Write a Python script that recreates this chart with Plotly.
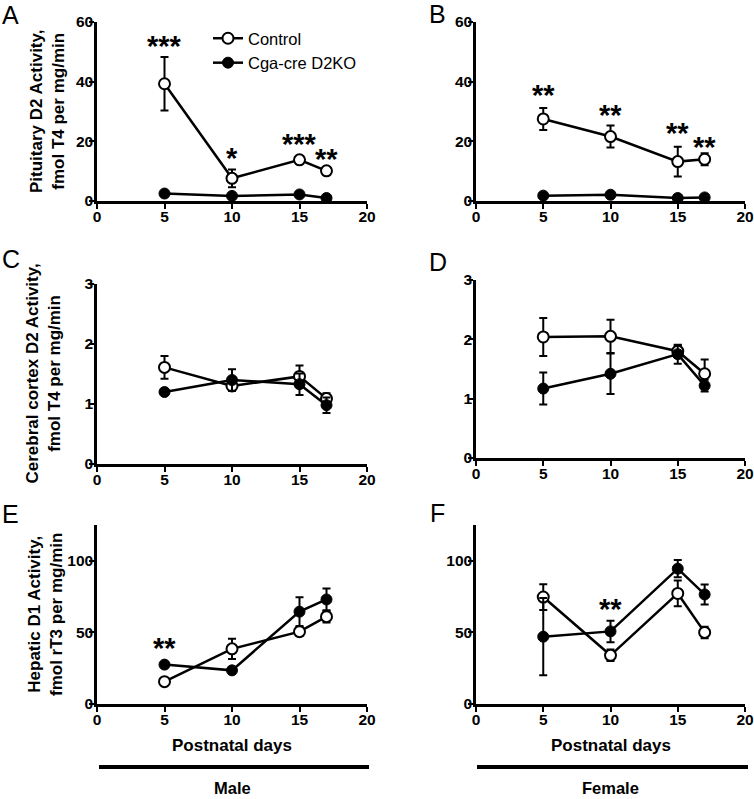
import plotly.graph_objects as go

# ---------------- data ----------------
days = [5, 10, 15, 17]

# A: Pituitary D2 activity, male
a_ctrl = [39.3, 7.6, 13.8, 10.1]
a_ctrl_err = [9.0, 3.0, 0.8, 0.5]
a_ko = [2.5, 1.7, 2.2, 1.0]
a_ko_err = [0.5, 0.5, 0.5, 0.4]
a_star_x = [5, 10, 15, 17]
a_star_y = [53, 15.5, 20, 15.1]
a_star_txt = ["***", "*", "***", "**"]

# B: Pituitary D2 activity, female
b_ctrl = [27.5, 21.6, 13.2, 14.0]
b_ctrl_err = [3.7, 3.7, 5.0, 2.0]
b_ko = [1.8, 2.1, 1.0, 1.2]
b_ko_err = [0.4, 0.4, 0.3, 0.3]
b_star_x = [5, 10, 15, 17]
b_star_y = [36.7, 30.0, 23.9, 19.0]
b_star_txt = ["**", "**", "**", "**"]

# C: Cerebral cortex D2 activity, male
c_ctrl = [1.61, 1.30, 1.46, 1.09]
c_ctrl_err = [0.19, 0.08, 0.18, 0.09]
c_ko = [1.20, 1.40, 1.33, 0.98]
c_ko_err = [0.03, 0.18, 0.18, 0.13]

# D: Cerebral cortex D2 activity, female
d_ctrl = [2.04, 2.05, 1.80, 1.42]
d_ctrl_err = [0.32, 0.28, 0.10, 0.24]
d_ko = [1.17, 1.42, 1.75, 1.22]
d_ko_err = [0.27, 0.34, 0.16, 0.10]

# E: Hepatic D1 activity, male
e_ctrl = [15.6, 38.5, 50.5, 61.0]
e_ctrl_err = [1.0, 7.0, 3.0, 4.0]
e_ko = [27.5, 23.5, 64.5, 73.0]
e_ko_err = [1.0, 1.0, 10.0, 7.6]
e_star_x = [5]
e_star_y = [41.3]
e_star_txt = ["**"]

# F: Hepatic D1 activity, female
f_ctrl = [74.7, 34.0, 77.2, 50.0]
f_ctrl_err = [9.0, 4.0, 9.0, 4.0]
f_ko = [47.0, 50.7, 94.5, 76.5]
f_ko_err = [27.0, 7.5, 6.0, 7.0]
f_star_x = [10]
f_star_y = [68.4]
f_star_txt = ["**"]

x_ticks = [0, 5, 10, 15, 20]
x_range = [0, 20]
pit_range = [0, 60]
pit_ticks = [0, 20, 40, 60]
cor_range = [0, 3]
cor_ticks = [0, 1, 2, 3]
hep_range = [0, 125]
hep_ticks = [0, 50, 100]

series_names = ["Control", "Cga-cre D2KO"]
y_titles = ["Pituitary D2 Activity,<br>fmol T4 per mg/min",
            "Cerebral cortex D2 Activity,<br>fmol T4 per mg/min",
            "Hepatic D1 Activity,<br>fmol rT3 per mg/min"]
panel_letters = ["A", "B", "C", "D", "E", "F"]
x_title = "Postnatal days"
sex_labels = ["Male", "Female"]

# ---------------- figure ----------------
W, H = 754, 799
FONT = "Liberation Sans, Arial, Helvetica, sans-serif"

fig = go.Figure()

panels = [
    ("x", "y", a_ctrl, a_ctrl_err, a_ko, a_ko_err, (a_star_x, a_star_y, a_star_txt)),
    ("x2", "y2", b_ctrl, b_ctrl_err, b_ko, b_ko_err, (b_star_x, b_star_y, b_star_txt)),
    ("x3", "y3", c_ctrl, c_ctrl_err, c_ko, c_ko_err, None),
    ("x4", "y4", d_ctrl, d_ctrl_err, d_ko, d_ko_err, None),
    ("x5", "y5", e_ctrl, e_ctrl_err, e_ko, e_ko_err, (e_star_x, e_star_y, e_star_txt)),
    ("x6", "y6", f_ctrl, f_ctrl_err, f_ko, f_ko_err, (f_star_x, f_star_y, f_star_txt)),
]

annotations = []
for i, (xa, ya, ctrl, ctrl_err, ko, ko_err, stars) in enumerate(panels):
    first = i == 0
    fig.add_trace(go.Scatter(
        x=days, y=ctrl, xaxis=xa, yaxis=ya, mode="lines+markers",
        name=series_names[0], showlegend=first, cliponaxis=False,
        line=dict(color="black", width=2.5),
        marker=dict(symbol="circle", size=11, color="white",
                    line=dict(color="black", width=2)),
        error_y=dict(type="data", array=ctrl_err, visible=True,
                     color="black", thickness=2, width=4),
    ))
    fig.add_trace(go.Scatter(
        x=days, y=ko, xaxis=xa, yaxis=ya, mode="lines+markers",
        name=series_names[1], showlegend=first, cliponaxis=False,
        line=dict(color="black", width=2.5),
        marker=dict(symbol="circle", size=11, color="black",
                    line=dict(color="black", width=1)),
        error_y=dict(type="data", array=ko_err, visible=True,
                     color="black", thickness=2, width=4),
    ))
    if stars:
        for sx, sy, st in zip(*stars):
            annotations.append(dict(
                x=sx, y=sy, xref=xa, yref=ya, text=st, showarrow=False,
                xanchor="center", yanchor="middle", yshift=-3,
                font=dict(family=FONT, size=29, color="black", weight="bold"),
            ))

left_dom = [97 / W, 367 / W]
right_dom = [476 / W, 745 / W]


def ydom(bottom_px, top_px):
    return [1 - bottom_px / H, 1 - top_px / H]


ydoms = [ydom(201, 22), ydom(201, 22), ydom(464, 284), ydom(458, 280),
         ydom(704, 525), ydom(704, 525)]
yranges = [pit_range, pit_range, cor_range, cor_range, hep_range, hep_range]
yticks = [pit_ticks, pit_ticks, cor_ticks, cor_ticks, hep_ticks, hep_ticks]

tickfont = dict(family=FONT, size=15.5, color="black", weight="bold")
layout = dict(
    template="none",
    width=W, height=H, margin=dict(l=0, r=0, t=0, b=0, pad=0),
    paper_bgcolor="white", plot_bgcolor="white",
    font=dict(family=FONT, color="black"),
    showlegend=True,
    legend=dict(x=208 / W, y=1 - 21 / H, xanchor="left", yanchor="top",
                bgcolor="rgba(0,0,0,0)", font=dict(family=FONT, size=16.5),
                tracegroupgap=0),
)
for i in range(6):
    sfx = "" if i == 0 else str(i + 1)
    anchor_x = "x" + sfx
    anchor_y = "y" + sfx
    layout["xaxis" + sfx] = dict(
        domain=left_dom if i % 2 == 0 else right_dom, anchor=anchor_y,
        range=x_range, tickvals=x_ticks, showgrid=False, zeroline=False,
        showline=True, linecolor="black", linewidth=2.5, automargin=False,
        ticks="outside", ticklen=5, tickwidth=2, tickcolor="black",
        tickfont=tickfont, fixedrange=True, ticklabelstandoff=-5,
        ticklabeloverflow="allow",
    )
    layout["yaxis" + sfx] = dict(
        domain=ydoms[i], anchor=anchor_x,
        range=yranges[i], tickvals=yticks[i], showgrid=False, zeroline=False,
        showline=True, linecolor="black", linewidth=2.5, automargin=False,
        ticks="outside", ticklen=5, tickwidth=2, tickcolor="black",
        tickfont=tickfont, fixedrange=True, ticklabelstandoff=-7,
        ticklabeloverflow="allow",
    )

# y-axis titles (left column)
title_font = dict(family=FONT, size=17, color="black", weight="bold")
title_x = [47.5, 42.5, 45.5]
for r in range(3):
    d = ydoms[2 * r]
    annotations.append(dict(
        x=title_x[r] / W, y=(d[0] + d[1]) / 2, xref="paper", yref="paper",
        text=y_titles[r], textangle=-90, showarrow=False,
        xanchor="center", yanchor="middle", font=title_font,
    ))

# panel letters
letter_pos = [(0, -1), (427, -2), (0, 243), (427, 246), (0, 498), (428, 497)]
for lt, (px, py) in zip(panel_letters, letter_pos):
    annotations.append(dict(
        x=px / W, y=1 - py / H, xref="paper", yref="paper", text=lt,
        showarrow=False, xanchor="left", yanchor="top",
        font=dict(family=FONT, size=25, color="black"),
    ))

# x titles for bottom row + sex labels
for dom, lab in zip([left_dom, right_dom], sex_labels):
    cx = (dom[0] + dom[1]) / 2
    annotations.append(dict(
        x=cx, y=1 - 745 / H, xref="paper", yref="paper", text=x_title,
        showarrow=False, xanchor="center", yanchor="middle",
        font=dict(family=FONT, size=17, color="black", weight="bold"),
    ))
    annotations.append(dict(
        x=cx, y=1 - 788 / H, xref="paper", yref="paper", text=lab,
        showarrow=False, xanchor="center", yanchor="middle",
        font=dict(family=FONT, size=16.5, color="black", weight="bold"),
    ))

shapes = [
    dict(type="line", xref="paper", yref="paper", x0=99 / W, x1=369 / W,
         y0=1 - 767 / H, y1=1 - 767 / H, line=dict(color="black", width=4)),
    dict(type="line", xref="paper", yref="paper", x0=477 / W, x1=748 / W,
         y0=1 - 767 / H, y1=1 - 767 / H, line=dict(color="black", width=4)),
]

layout["annotations"] = annotations
layout["shapes"] = shapes
fig.update_layout(**layout)
fig.write_html(
    "out.html",
    config={"displayModeBar": False},
    post_script="document.body.style.margin='0px';document.body.style.overflow='hidden';",
)
